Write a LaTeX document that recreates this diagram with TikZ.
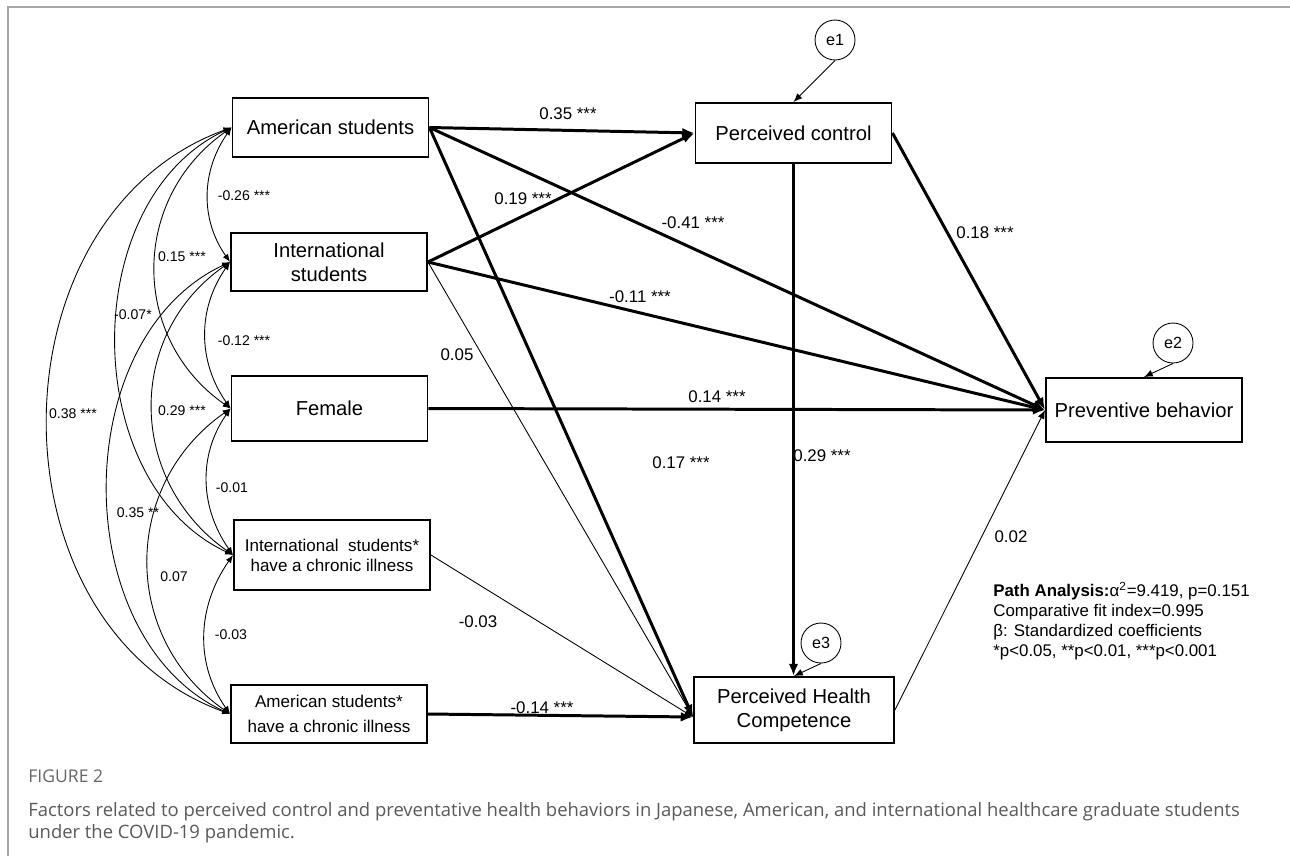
\documentclass[tikz,border=0pt]{standalone}
\usepackage{fontspec}
\setmainfont{Liberation Sans}
\newfontfamily\capfont{Open Sans}
\usetikzlibrary{arrows.meta}

\begin{document}
\begin{tikzpicture}[
		x=0.02cm, y=-0.02cm,
		var/.style={draw, line width=1.1pt, minimum width=3.92cm, minimum height=1.18cm, align=center, inner sep=0pt, font=\fontsize{11.5}{13.6}\selectfont},
		smallvar/.style={var, font=\fontsize{9.7}{11.3}\selectfont},
		err/.style={draw, circle, line width=0.5pt, minimum size=0.8cm, inner sep=0pt, font=\fontsize{9.2}{11}\selectfont},
		strong/.style={-{Latex[length=7pt, width=5.5pt]}, line width=1.7pt},
		weak/.style={-{Latex[length=5pt, width=4pt]}, line width=0.5pt},
		cov/.style={{Latex[length=4.5pt, width=3.5pt]}-{Latex[length=4.5pt, width=3.5pt]}, line width=0.5pt},
		coef/.style={font=\fontsize{9.6}{11}\selectfont},
		rlab/.style={font=\fontsize{8}{9}\selectfont}
	]
		\useasboundingbox (0,0) rectangle (1290,856);
		\draw[gray!70, line width=0.8pt] (8,856) -- (8,7) -- (1290,7);

		% exogenous variables
		\node[var] (am) at (330.5, 127.5) {American students};
		\node[var, minimum height=1.16cm] (intl) at (329, 262) {International\\students};
		\node[var, minimum height=1.3cm] (fem) at (329.5, 408.5) {Female};
		\node[smallvar, minimum height=1.4cm] (intlchr) at (332, 555) {International~ students*\\have a chronic illness};
		\node[smallvar, font=\fontsize{9.7}{14}\selectfont, minimum height=1.16cm] (amchr) at (329, 714) {American students*\\have a chronic illness};

		% endogenous variables
		\node[var, minimum height=1.2cm] (pc) at (793.5, 133) {Perceived control};
		\node[var, minimum height=1.28cm] (pb) at (1144, 410) {Preventive behavior};
		\node[var, minimum width=4cm, minimum height=1.32cm] (phc) at (794, 710) {Perceived Health\\Competence};
		\coordinate (phcin) at ([yshift=-0.14cm]phc.west);

		% error terms
		\node[err] (e1) at (835, 40) {e1};
		\node[err] (e2) at (1173, 343) {e2};
		\node[err] (e3) at (821, 643) {e3};
		\draw[weak] (e1.south) -- (pc.north);
		\draw[weak] (e2.south) -- (pb.north);
		\draw[weak] (e3.south) -- (phc.north);

		% paths
		\draw[strong] (am.east) -- (pc.west);
		\draw[strong] (intl.east) -- (pc.west);
		\draw[strong] (am.east) -- (pb.west);
		\draw[strong] (intl.east) -- (pb.west);
		\draw[strong] (fem.east) -- (pb.west);
		\draw[strong] (pc.east) -- (pb.west);
		\draw[strong] (pc.south) -- (pc.south |- phc.north);
		\draw[strong] (am.east) -- (phcin);
		\draw[weak] (intl.east) -- (phcin);
		\draw[weak] (intlchr.east) -- (phcin);
		\draw[strong] (amchr.east) -- (phcin);
		\draw[weak] (phc.east) -- (pb.west);

		\node[coef] (c1) at (568, 114) {0.35 ***};
		\node[coef] (c2) at (523, 199) {0.19 ***};
		\node[coef] (c3) at (693, 223) {-0.41 ***};
		\node[coef] (c4) at (640, 297) {-0.11 ***};
		\node[coef] (c5) at (717, 397) {0.14 ***};
		\node[coef] (c6) at (985, 233) {0.18 ***};
		\node[coef] (c7) at (681, 463) {0.17 ***};
		\node[coef] (c8) at (457, 355) {0.05};
		\node[coef] (c9) at (822, 456) {0.29 ***};
		\node[coef] (c10) at (478, 622) {-0.03};
		\node[coef] (c11) at (542, 708) {-0.14 ***};
		\node[coef] (c12) at (1011, 537) {0.02};

		% correlations
		\draw[cov] (am.west) to[out=235, in=125] (intl.west);
		\draw[cov] (intl.west) to[out=235, in=125] (fem.west);
		\draw[cov] (fem.west) to[out=235, in=125] (intlchr.west);
		\draw[cov] (intlchr.west) to[out=235, in=125] (amchr.west);
		\draw[cov] (am.west) to[out=215, in=145, looseness=1.12] (fem.west);
		\draw[cov] (intl.west) to[out=215, in=145, looseness=1.12] (intlchr.west);
		\draw[cov] (fem.west) to[out=215, in=145, looseness=1.12] (amchr.west);
		\draw[cov] (am.west) to[out=205, in=155, looseness=1.02] (intlchr.west);
		\draw[cov] (intl.west) to[out=205, in=155, looseness=1.02] (amchr.west);
		\draw[cov] (am.west) to[out=200, in=160, looseness=1.13] (amchr.west);

		\node[rlab] (r1) at (244, 196) {-0.26 ***};
		\node[rlab] (r2) at (244, 341) {-0.12 ***};
		\node[rlab] (r3) at (232, 488) {-0.01};
		\node[rlab] (r4) at (231, 635) {-0.03};
		\node[rlab] (r5) at (182, 257) {0.15 ***};
		\node[rlab] (r6) at (182, 411) {0.29 ***};
		\node[rlab] (r7) at (174, 577) {0.07};
		\node[rlab] (r8) at (133, 315) {-0.07*};
		\node[rlab] (r9) at (138, 513) {0.35 **};
		\node[rlab] (r10) at (73, 414) {0.38 ***};

		% fit statistics
		\node[anchor=base west, align=left, inner sep=0pt, font=\fontsize{9.6}{11.3}\selectfont] (fit) at (993, 656)
			{\textbf{Path Analysis:}α\textsuperscript{2}=9.419, p=0.151\\Comparative fit index=0.995\\β: Standardized coefficients\\*p<0.05, **p<0.01, ***p<0.001};

		% caption
		\node[anchor=base west, inner sep=0pt, text=black!60, font=\capfont\fontsize{10}{12}\selectfont] (figno) at (28, 782) {FIGURE 2};
		\node[anchor=base west, align=left, inner sep=0pt, text=black!65, font=\capfont\fontsize{10.5}{12.5}\selectfont] (cap) at (28, 838)
			{Factors related to perceived control and preventative health behaviors in Japanese, American, and international healthcare graduate students\\under the COVID-19 pandemic.};
	\end{tikzpicture}
\end{document}
